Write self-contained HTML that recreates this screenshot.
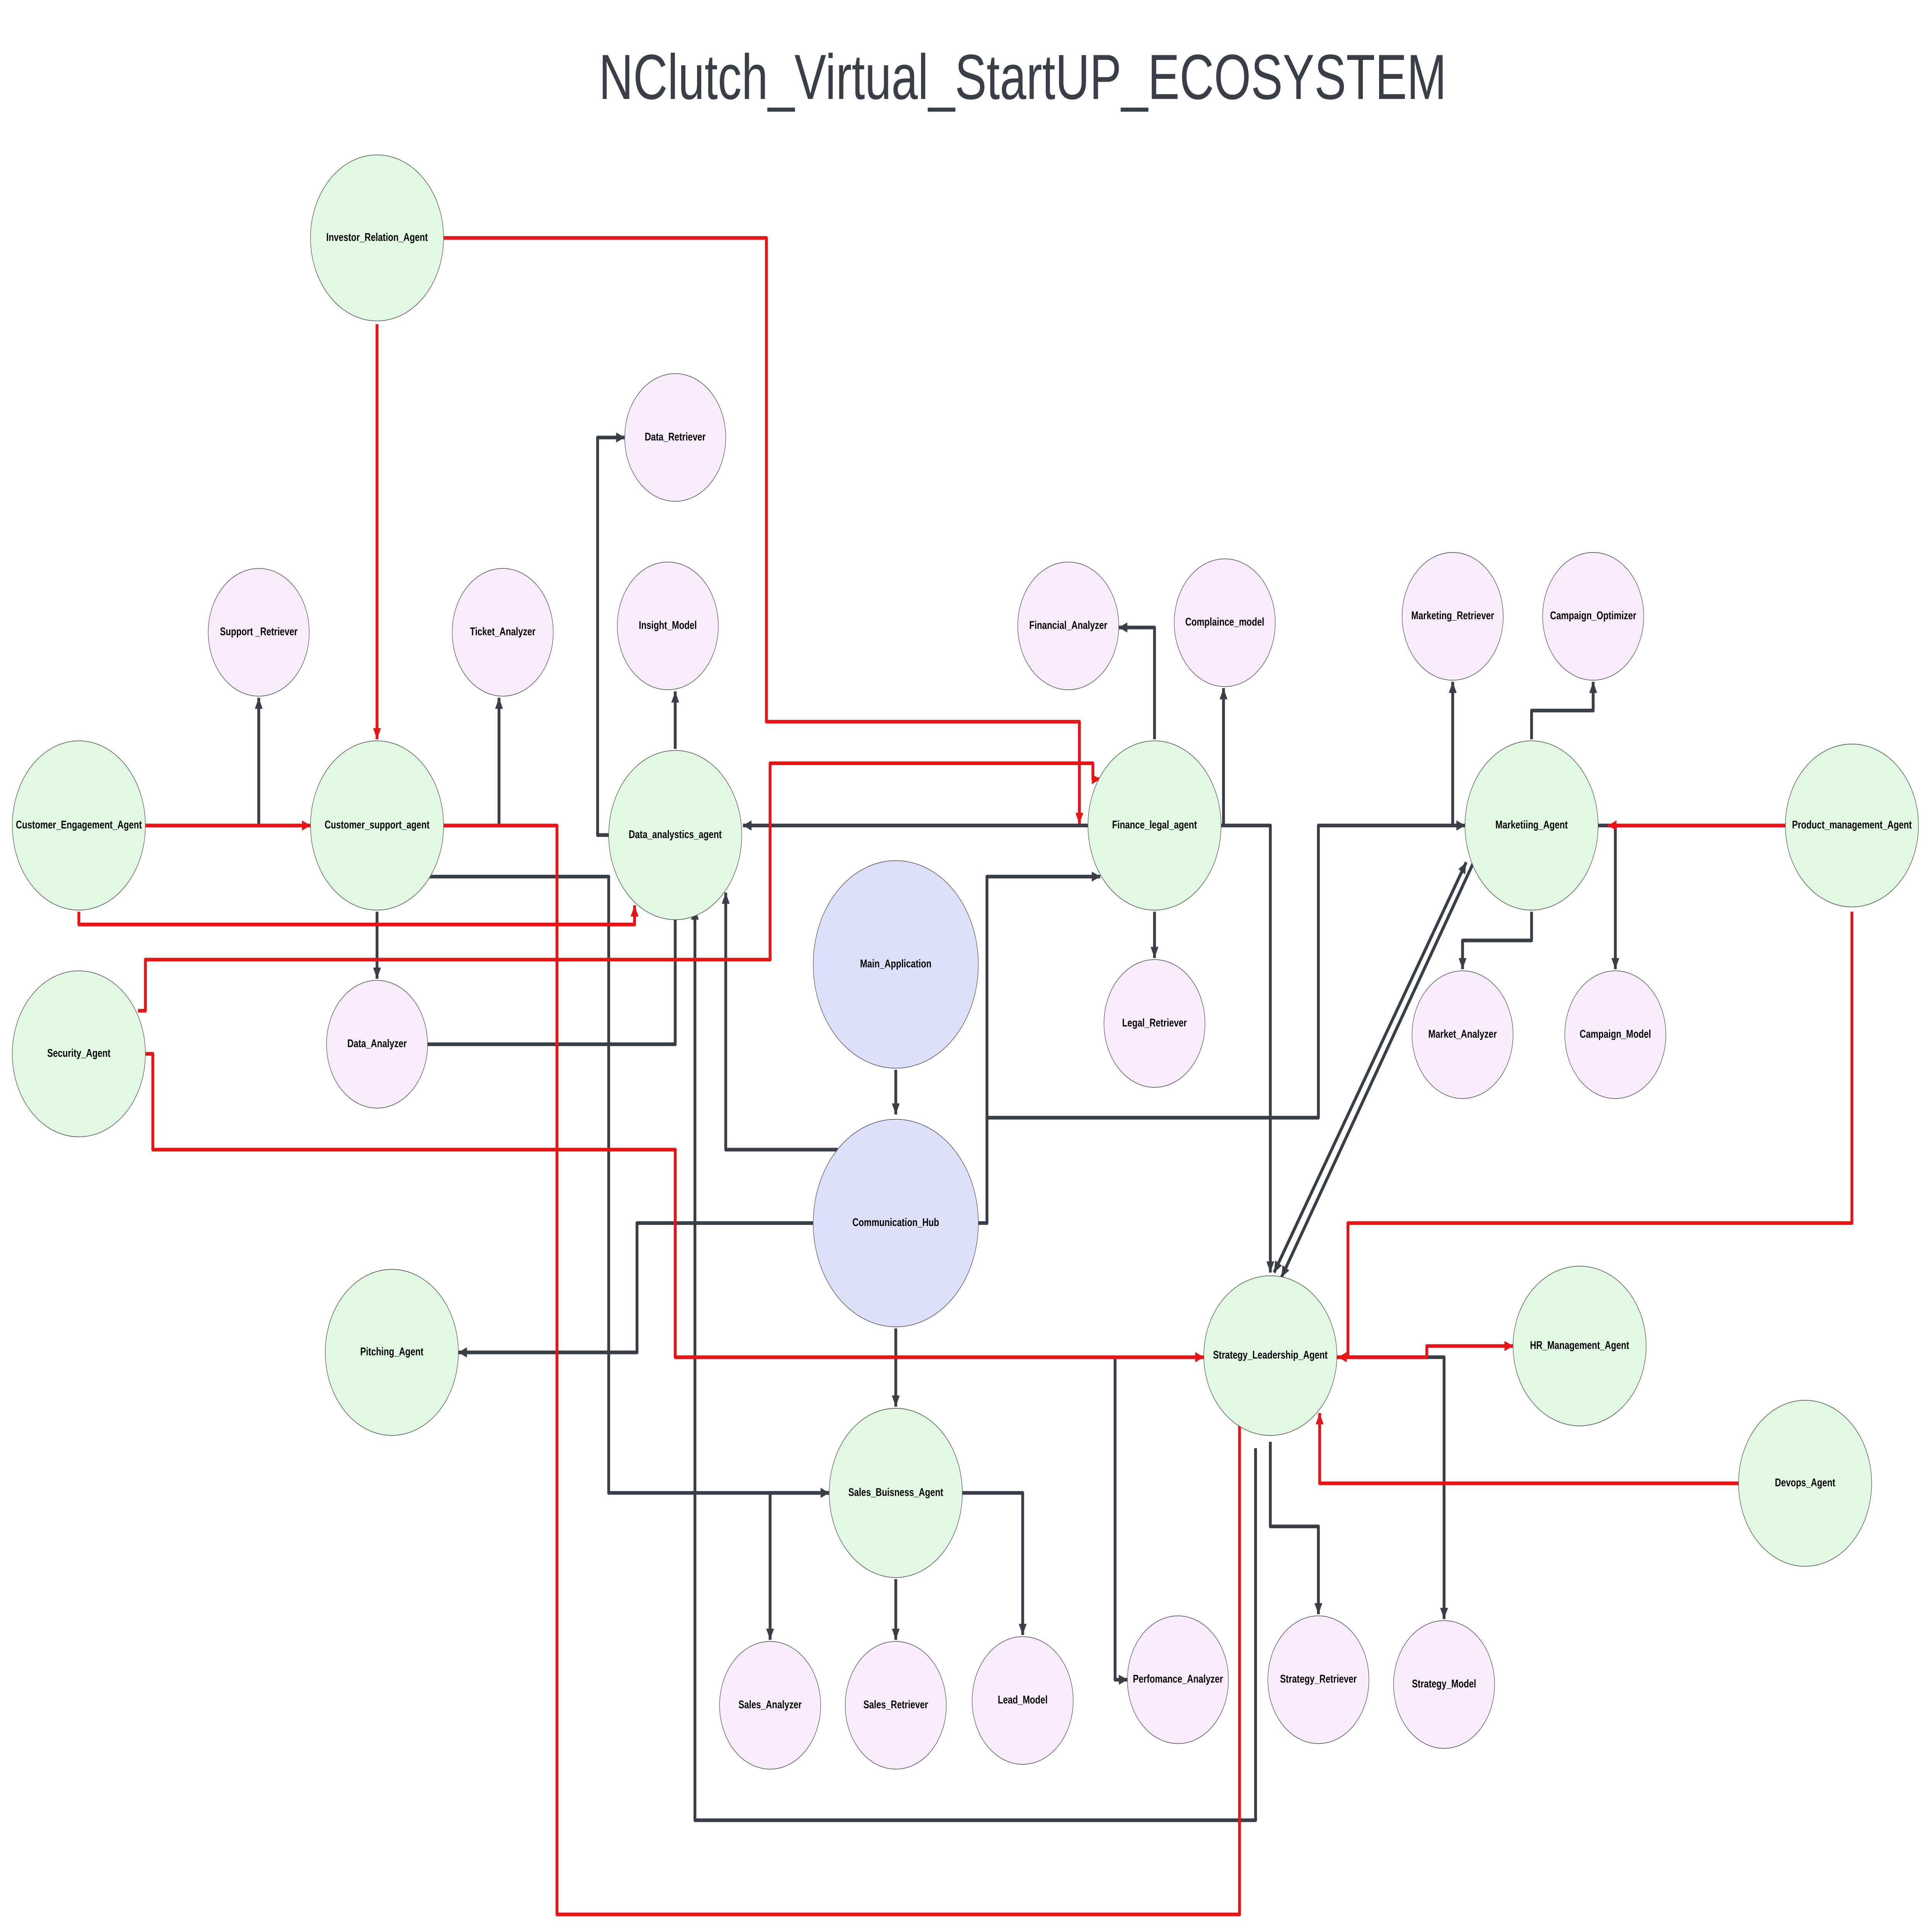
<!DOCTYPE html>
<html><head><meta charset="utf-8"><style>
html,body{margin:0;padding:0;background:#fff;width:100%;height:100%;overflow:hidden;}
svg{display:block;position:fixed;left:0;top:0;width:100vw;height:100vh;}
text{font-family:"Liberation Sans",sans-serif;}
.l{font-size:7px;font-weight:bold;fill:#000;text-anchor:middle;dominant-baseline:middle;}
.d{fill:none;stroke:#3a3f47;stroke-width:2.3;stroke-linejoin:round;}
.r{fill:none;stroke:#e81416;stroke-width:2.3;stroke-linejoin:round;}
.g{fill:#e1f9e2;stroke:#555;stroke-width:0.4;}
.p{fill:#f9ecfd;stroke:#555;stroke-width:0.4;}
.b{fill:#dedffa;stroke:#555;stroke-width:0.4;}
</style></head><body>
<svg viewBox="0 0 1568 1210" preserveAspectRatio="none" xmlns="http://www.w3.org/2000/svg">
<defs>
<marker id="ad" markerWidth="8" markerHeight="8" refX="7" refY="4" orient="auto" markerUnits="userSpaceOnUse"><path d="M0,0.8 L7,4 L0,7.2z" fill="#3a3f47"/></marker>
<marker id="ar" markerWidth="8" markerHeight="8" refX="7" refY="4" orient="auto" markerUnits="userSpaceOnUse"><path d="M0,0.8 L7,4 L0,7.2z" fill="#e81416"/></marker>
<marker id="ads" markerWidth="8" markerHeight="8" refX="0" refY="4" orient="auto" markerUnits="userSpaceOnUse"><path d="M7,0.8 L0,4 L7,7.2z" fill="#3a3f47"/></marker>
</defs>
<text x="830" y="62" font-size="40" fill="#3a3f47" text-anchor="middle" textLength="688" lengthAdjust="spacingAndGlyphs">NClutch_Virtual_StartUP_ECOSYSTEM</text>

<path class="d" d="M210,517 V437" marker-end="url(#ad)"/>
<path class="d" d="M405,517 V437" marker-end="url(#ad)"/>
<path class="d" d="M306,571 V613" marker-end="url(#ad)"/>
<path class="d" d="M348,549 H494 V935 H673" marker-end="url(#ad)"/>
<path class="d" d="M347,654 H548 V569" marker-end="url(#ad)"/>
<path class="d" d="M548,469 V433" marker-end="url(#ad)"/>
<path class="d" d="M494,523 H485 V274 H507" marker-end="url(#ad)"/>
<path class="d" d="M680,720 H589 V559" marker-end="url(#ad)"/>
<path class="d" d="M660,766 H517 V847 H372" marker-end="url(#ad)"/>
<path class="d" d="M794,766 H801 V549 H893" marker-end="url(#ad)"/>
<path class="d" d="M727,670 V698" marker-end="url(#ad)"/>
<path class="d" d="M727,832 V881" marker-end="url(#ad)"/>
<path class="d" d="M801,700 H1070 V517 H1189" marker-end="url(#ad)"/>
<path class="d" d="M883,517 H603" marker-end="url(#ad)"/>
<path class="d" d="M937,463 V393 H908" marker-end="url(#ad)"/>
<path class="d" d="M993,517 V431" marker-end="url(#ad)"/>
<path class="d" d="M991,517 H1031 V797" marker-end="url(#ad)"/>
<path class="d" d="M937,571 V600" marker-end="url(#ad)"/>
<path class="d" d="M1179,517 V427" marker-end="url(#ad)"/>
<path class="d" d="M1243,463 V445 H1293 V427" marker-end="url(#ad)"/>
<path class="d" d="M1297,517 H1311 V607" marker-end="url(#ad)"/>
<path class="d" d="M1243,571 V589 H1187 V607" marker-end="url(#ad)"/>
<path class="d" d="M1190,540 L1034,797" marker-end="url(#ad)" marker-start="url(#ads)"/>
<path class="d" d="M1196,540 L1040,800" marker-end="url(#ad)"/>
<path class="d" d="M1031,903 V956 H1070 V1011" marker-end="url(#ad)"/>
<path class="d" d="M1085,850 H1172 V1014" marker-end="url(#ad)"/>
<path class="d" d="M905,850 V1052 H915" marker-end="url(#ad)"/>
<path class="d" d="M1019,907 V1140 H564 V569" marker-end="url(#ad)"/>
<path class="d" d="M781,935 H830 V1024" marker-end="url(#ad)"/>
<path class="d" d="M727,989 V1027" marker-end="url(#ad)"/>
<path class="d" d="M673,935 H625 V1027" marker-end="url(#ad)"/>

<path class="r" d="M306,203 V463" marker-end="url(#ar)"/>
<path class="r" d="M360,149 H622 V452 H876 V516" marker-end="url(#ar)"/>
<path class="r" d="M118,517 H252" marker-end="url(#ar)"/>
<path class="r" d="M64,571 V579 H515 V567" marker-end="url(#ar)"/>
<path class="r" d="M360,517 H452 V1199 H1006 V870" marker-end="url(#ar)"/>
<path class="r" d="M112,633 H118 V601 H625 V478 H887 V488 H893" marker-end="url(#ar)"/>
<path class="r" d="M118,660 H124 V720 H548 V850 H977" marker-end="url(#ar)"/>
<path class="r" d="M1449,517 H1305" marker-end="url(#ar)"/>
<path class="r" d="M1503,571 V766 H1094 V850 H1086" marker-end="url(#ar)"/>
<path class="r" d="M1085,850 H1158 V843 H1228" marker-end="url(#ar)"/>
<path class="r" d="M1411,929 H1071 V885" marker-end="url(#ar)"/>

<g>
<ellipse class="g" cx="306" cy="149" rx="54" ry="52"/><text class="l" x="306" y="149">Investor_Relation_Agent</text>
<ellipse class="p" cx="210" cy="396" rx="41" ry="40"/><text class="l" x="210" y="396">Support _Retriever</text>
<ellipse class="p" cx="408" cy="396" rx="41" ry="40"/><text class="l" x="408" y="396">Ticket_Analyzer</text>
<ellipse class="p" cx="548" cy="274" rx="41" ry="40"/><text class="l" x="548" y="274">Data_Retriever</text>
<ellipse class="p" cx="542" cy="392" rx="41" ry="40"/><text class="l" x="542" y="392">Insight_Model</text>
<ellipse class="g" cx="64" cy="517" rx="54" ry="53"/><text class="l" x="64" y="517">Customer_Engagement_Agent</text>
<ellipse class="g" cx="306" cy="517" rx="54" ry="53"/><text class="l" x="306" y="517">Customer_support_agent</text>
<ellipse class="g" cx="548" cy="523" rx="54" ry="53"/><text class="l" x="548" y="523">Data_analystics_agent</text>
<ellipse class="p" cx="867" cy="392" rx="41" ry="40"/><text class="l" x="867" y="392">Financial_Analyzer</text>
<ellipse class="p" cx="994" cy="390" rx="41" ry="40"/><text class="l" x="994" y="390">Complaince_model</text>
<ellipse class="p" cx="1179" cy="386" rx="41" ry="40"/><text class="l" x="1179" y="386">Marketing_Retriever</text>
<ellipse class="p" cx="1293" cy="386" rx="41" ry="40"/><text class="l" x="1293" y="386">Campaign_Optimizer</text>
<ellipse class="g" cx="937" cy="517" rx="54" ry="53"/><text class="l" x="937" y="517">Finance_legal_agent</text>
<ellipse class="g" cx="1243" cy="517" rx="54" ry="53"/><text class="l" x="1243" y="517">Marketiing_Agent</text>
<ellipse class="g" cx="1503" cy="517" rx="54" ry="51"/><text class="l" x="1503" y="517">Product_management_Agent</text>
<ellipse class="b" cx="727" cy="604" rx="67" ry="65"/><text class="l" x="727" y="604">Main_Application</text>
<ellipse class="g" cx="64" cy="660" rx="54" ry="52"/><text class="l" x="64" y="660">Security_Agent</text>
<ellipse class="p" cx="306" cy="654" rx="41" ry="40"/><text class="l" x="306" y="654">Data_Analyzer</text>
<ellipse class="p" cx="937" cy="641" rx="41" ry="40"/><text class="l" x="937" y="641">Legal_Retriever</text>
<ellipse class="p" cx="1187" cy="648" rx="41" ry="40"/><text class="l" x="1187" y="648">Market_Analyzer</text>
<ellipse class="p" cx="1311" cy="648" rx="41" ry="40"/><text class="l" x="1311" y="648">Campaign_Model</text>
<ellipse class="b" cx="727" cy="766" rx="67" ry="65"/><text class="l" x="727" y="766">Communication_Hub</text>
<ellipse class="g" cx="318" cy="847" rx="54" ry="52"/><text class="l" x="318" y="847">Pitching_Agent</text>
<ellipse class="g" cx="1031" cy="849" rx="54" ry="50"/><text class="l" x="1031" y="849">Strategy_Leadership_Agent</text>
<ellipse class="g" cx="1282" cy="843" rx="54" ry="50"/><text class="l" x="1282" y="843">HR_Management_Agent</text>
<ellipse class="g" cx="1465" cy="929" rx="54" ry="52"/><text class="l" x="1465" y="929">Devops_Agent</text>
<ellipse class="g" cx="727" cy="935" rx="54" ry="53"/><text class="l" x="727" y="935">Sales_Buisness_Agent</text>
<ellipse class="p" cx="625" cy="1068" rx="41" ry="40"/><text class="l" x="625" y="1068">Sales_Analyzer</text>
<ellipse class="p" cx="727" cy="1068" rx="41" ry="40"/><text class="l" x="727" y="1068">Sales_Retriever</text>
<ellipse class="p" cx="830" cy="1065" rx="41" ry="40"/><text class="l" x="830" y="1065">Lead_Model</text>
<ellipse class="p" cx="956" cy="1052" rx="41" ry="40"/><text class="l" x="956" y="1052">Perfomance_Analyzer</text>
<ellipse class="p" cx="1070" cy="1052" rx="41" ry="40"/><text class="l" x="1070" y="1052">Strategy_Retriever</text>
<ellipse class="p" cx="1172" cy="1055" rx="41" ry="40"/><text class="l" x="1172" y="1055">Strategy_Model</text>
</g>
</svg>
</body></html>
